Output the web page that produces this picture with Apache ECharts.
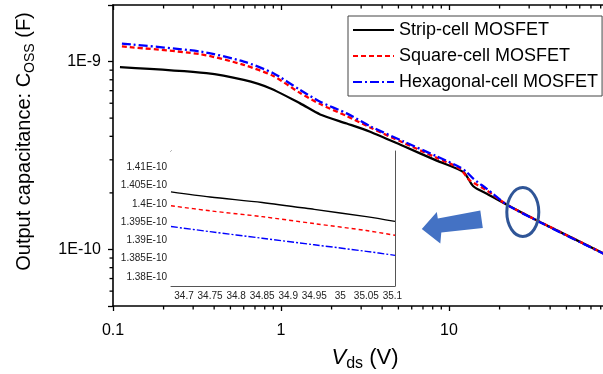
<!DOCTYPE html>
<html>
<head>
<meta charset="utf-8">
<script src="https://cdn.jsdelivr.net/npm/echarts@6/dist/echarts.min.js"></script>
<style>
html,body{margin:0;padding:0;background:#fff;}
#chart{width:603px;height:374px;}
</style>
</head>
<body>
<div id="chart"></div>
<script>
// ---------- data ----------
const seriesNames = ['Strip-cell MOSFET', 'Square-cell MOSFET', 'Hexagonal-cell MOSFET'];

const stripVds = [0.11, 0.36, 0.6, 0.86, 1.3, 1.71, 2.46, 3.39, 5.35, 8.45, 12.2, 13.95, 16.8, 22.1, 35, 81, 100];
const stripC   = [9.33e-10, 8.67e-10, 7.98e-10, 7.21e-10, 5.99e-10, 5.23e-10, 4.68e-10, 4.23e-10, 3.55e-10, 2.97e-10, 2.58e-10, 2.17e-10, 1.98e-10, 1.73e-10, 1.397e-10, 9.64e-11, 8.8e-11];

const squareVds = [0.113, 0.33, 0.6, 0.9, 1.3, 1.71, 2.46, 3.39, 5.35, 8.45, 11.6, 13.3, 16.8, 22.1, 35, 81, 100];
const squareC   = [1.203e-9, 1.095e-9, 9.6e-10, 8.38e-10, 6.8e-10, 5.94e-10, 5.13e-10, 4.46e-10, 3.70e-10, 3.07e-10, 2.69e-10, 2.33e-10, 2.06e-10, 1.73e-10, 1.398e-10, 9.64e-11, 8.8e-11];

const hexVds = [0.113, 0.33, 0.6, 0.9, 1.3, 1.71, 2.46, 3.39, 5.35, 8.45, 11.6, 12.75, 13.95, 16.8, 22.1, 35, 81, 100];
const hexC   = [1.245e-9, 1.131e-9, 1.0e-9, 8.67e-10, 7.06e-10, 6.11e-10, 5.3e-10, 4.53e-10, 3.76e-10, 3.13e-10, 2.74e-10, 2.58e-10, 2.38e-10, 2.10e-10, 1.73e-10, 1.392e-10, 9.6e-11, 8.8e-11];

// inset (zoom near 35 V)
const insetVds    = [34.675, 34.75, 34.85, 34.95, 35.05, 35.105];
const insetStripC = [1.4033e-10, 1.4019e-10, 1.4004e-10, 1.3985e-10, 1.3965e-10, 1.3952e-10];
const insetSquareC= [1.3995e-10, 1.3981e-10, 1.3965e-10, 1.3946e-10, 1.3927e-10, 1.3914e-10];
const insetHexC   = [1.3938e-10, 1.3924e-10, 1.3906e-10, 1.3888e-10, 1.3870e-10, 1.3859e-10];

// tick labels
const mainXTicks  = [0.1, 1, 10];
const mainYTicks  = [1e-10, 1e-9];
const mainXMinor  = [0.2,0.3,0.4,0.5,0.6,0.7,0.8,0.9, 2,3,4,5,6,7,8,9, 20,30,40,50,60,70,80,90];
const mainYMinor  = [6e-11,7e-11,8e-11,9e-11, 2e-10,3e-10,4e-10,5e-10,6e-10,7e-10,8e-10,9e-10];
const insetXTicks = [34.7, 34.75, 34.8, 34.85, 34.9, 34.95, 35, 35.05, 35.1];
const insetYTicks = [1.38e-10, 1.385e-10, 1.39e-10, 1.395e-10, 1.40e-10, 1.405e-10, 1.41e-10];

// ---------- helpers ----------
const zip = (xs, ys) => xs.map((x, i) => [x, ys[i]]);
const X_MIN = 0.1, X_MAX = 100, Y_MIN = 5e-11, Y_MAX = 2e-9;
const IX_MIN = 34.675, IX_MAX = 35.105, IY_MIN = 1.3775e-10, IY_MAX = 1.4145e-10;
const insetXMinor = [], insetYMinor = [];
for (let k = 0; k <= 86; k++) { const v = +(34.68 + k * 0.005).toFixed(3); if (v <= IX_MAX) insetXMinor.push(v); }
for (let k = 0; k <= 36; k++) { insetYMinor.push(+((1.378 + k * 0.001).toFixed(3)) * 1e-10); }

const FONT = "'Liberation Sans', Arial, sans-serif";
const chart = echarts.init(document.getElementById('chart'), null, {renderer: 'canvas'});

function isPow10(v) { const e = Math.log10(v); return Math.abs(e - Math.round(e)) < 1e-6; }
const inList = (list, v) => list.some(t => Math.abs(t - v) / t < 1e-6);

const tickStyle = {stroke: '#000', lineWidth: 1.3};

const option = {
  backgroundColor: '#fff',
  animation: false,
  grid: [
    {left: 113, top: 5, right: -14, bottom: 68, outerBoundsMode: 'none', containLabel: false},
    {left: 171, top: 151, width: 224, height: 135, show: true, backgroundColor: '#fff', borderWidth: 0, z: 3,
     outerBoundsMode: 'none', containLabel: false}
  ],
  legend: {
    data: seriesNames,
    orient: 'vertical', left: 348, top: 16,
    padding: [5, 4, 5, 4],
    itemWidth: 41, itemHeight: 12, itemGap: 8,
    borderColor: '#444', borderWidth: 1, backgroundColor: '#fff',
    itemStyle: {opacity: 0, borderWidth: 0},
    textStyle: {fontSize: 18, fontFamily: FONT, color: '#000', lineHeight: 14},
    z: 10
  },
  xAxis: [
    {type: 'log', gridIndex: 0, min: X_MIN, max: X_MAX, logBase: 10,
     axisLine: {show: true, lineStyle: {color: '#000', width: 1.6}},
     axisTick: {show: true, inside: false, length: 5, lineStyle: {color: '#000', width: 1.3}},
     axisLabel: {fontSize: 16, fontFamily: FONT, color: '#000', margin: 17,
       formatter: v => inList(mainXTicks, v) ? String(+v.toPrecision(3)) : ''},
     splitLine: {show: false}, minorTick: {show: false},
     name: '{v|V}{s|ds} (V)', nameLocation: 'middle', nameGap: 36,
     nameTextStyle: {fontSize: 22, fontFamily: FONT, color: '#000', lineHeight: 28,
       rich: {v: {fontSize: 22, fontStyle: 'italic', fontFamily: FONT, color: '#000', lineHeight: 28},
              s: {fontSize: 16, fontFamily: FONT, color: '#000', lineHeight: 14, verticalAlign: 'bottom'}}}
    },
    {type: 'log', gridIndex: 0, position: 'top', min: X_MIN, max: X_MAX, logBase: 10,
     axisLine: {show: true, lineStyle: {color: '#000', width: 1.6}},
     axisTick: {show: true, inside: true, length: 5, lineStyle: {color: '#000', width: 1.3}},
     axisLabel: {show: false}, splitLine: {show: false}},
    {type: 'value', gridIndex: 1, min: IX_MIN, max: IX_MAX,
     axisLine: {show: true, onZero: false, lineStyle: {color: '#555', width: 1}},
     axisTick: {show: true, inside: true, length: 2.5, customValues: insetXMinor, lineStyle: {color: '#555', width: 1}},
     axisLabel: {fontSize: 10, fontFamily: FONT, color: '#222', margin: 5, customValues: insetXTicks,
       formatter: v => String(+v.toFixed(3))},
     splitLine: {show: false}},
    {type: 'value', gridIndex: 1, position: 'top', min: IX_MIN, max: IX_MAX,
     axisLine: {show: true, onZero: false, lineStyle: {color: '#555', width: 1}},
     axisTick: {show: true, inside: true, length: 2.5, customValues: insetXMinor, lineStyle: {color: '#555', width: 1}},
     axisLabel: {show: false}, splitLine: {show: false}}
  ],
  yAxis: [
    {type: 'log', gridIndex: 0, min: Y_MIN, max: Y_MAX, logBase: 10,
     axisLine: {show: true, lineStyle: {color: '#000', width: 1.6}},
     axisTick: {show: true, inside: false, length: 5, lineStyle: {color: '#000', width: 1.3}},
     axisLabel: {fontSize: 16, fontFamily: FONT, color: '#000', margin: 12,
       formatter: v => inList(mainYTicks, v) ? '1E' + Math.round(Math.log10(v)) : ''},
     splitLine: {show: false},
     name: 'Output capacitance: C{s|OSS} (F)', nameLocation: 'middle', nameGap: 76,
     nameTextStyle: {fontSize: 20, fontFamily: FONT, color: '#000', lineHeight: 26, padding: [0, 0, 0, 28],
       rich: {s: {fontSize: 14, fontFamily: FONT, color: '#000', lineHeight: 13, verticalAlign: 'bottom'}}}
    },
    {type: 'value', gridIndex: 1, min: IY_MIN, max: IY_MAX,
     axisLine: {show: true, onZero: false, lineStyle: {color: '#555', width: 1}},
     axisTick: {show: true, inside: true, length: 2.5, customValues: insetYMinor, lineStyle: {color: '#555', width: 1}},
     axisLabel: {fontSize: 10, fontFamily: FONT, color: '#222', margin: 4, customValues: insetYTicks,
       formatter: v => String(+(v * 1e10).toFixed(3)) + 'E-10'},
     splitLine: {show: false}},
    {type: 'value', gridIndex: 1, position: 'right', min: IY_MIN, max: IY_MAX,
     axisLine: {show: true, onZero: false, lineStyle: {color: '#555', width: 1}},
     axisTick: {show: true, inside: true, length: 2.5, customValues: insetYMinor, lineStyle: {color: '#555', width: 1}},
     axisLabel: {show: false}, splitLine: {show: false}}
  ],
  series: [
    {name: seriesNames[0], type: 'line', xAxisIndex: 0, yAxisIndex: 0, data: zip(stripVds, stripC),
     symbol: 'none', smooth: 0.25, lineStyle: {color: '#000', width: 2.3}, itemStyle: {color: '#000'}, z: 2},
    {name: seriesNames[1], type: 'line', xAxisIndex: 0, yAxisIndex: 0, data: zip(squareVds, squareC),
     symbol: 'none', smooth: 0.25, lineStyle: {color: '#ff0000', width: 2.3, type: [5, 3]}, itemStyle: {color: '#ff0000'}, z: 2},
    {name: seriesNames[2], type: 'line', xAxisIndex: 0, yAxisIndex: 0, data: zip(hexVds, hexC),
     symbol: 'none', smooth: 0.25, lineStyle: {color: '#0000ff', width: 2.3, type: [9, 3, 2, 3]}, itemStyle: {color: '#0000ff'}, z: 2},
    {name: 'inset strip', type: 'line', xAxisIndex: 2, yAxisIndex: 1, data: zip(insetVds, insetStripC),
     symbol: 'none', smooth: 0.3, lineStyle: {color: '#000', width: 1.4}, z: 4},
    {name: 'inset square', type: 'line', xAxisIndex: 2, yAxisIndex: 1, data: zip(insetVds, insetSquareC),
     symbol: 'none', smooth: 0.3, lineStyle: {color: '#ff0000', width: 1.4, type: [4, 3]}, z: 4},
    {name: 'inset hex', type: 'line', xAxisIndex: 2, yAxisIndex: 1, data: zip(insetVds, insetHexC),
     symbol: 'none', smooth: 0.3, lineStyle: {color: '#0000ff', width: 1.4, type: [7, 2, 2, 2]}, z: 4},
    // minor ticks of the main log axes (placed through the axis scales)
    {type: 'custom', xAxisIndex: 0, yAxisIndex: 0, silent: true, clip: false, z: 6,
     data: mainXMinor.map(v => [v, Y_MIN]),
     renderItem: (params, api) => {
       const b = api.coord([api.value(0), Y_MIN]);
       const t = api.coord([api.value(0), Y_MAX]);
       return {type: 'group', children: [
         {type: 'line', shape: {x1: b[0], y1: b[1], x2: b[0], y2: b[1] + 3.5}, style: tickStyle},
         {type: 'line', shape: {x1: t[0], y1: t[1], x2: t[0], y2: t[1] + 3.5}, style: tickStyle}
       ]};
     }},
    {type: 'custom', xAxisIndex: 0, yAxisIndex: 0, silent: true, clip: false, z: 6,
     data: mainYMinor.map(v => [X_MIN, v]),
     renderItem: (params, api) => {
       const p = api.coord([X_MIN, api.value(1)]);
       return {type: 'line', shape: {x1: p[0] - 3.5, y1: p[1], x2: p[0], y2: p[1]}, style: tickStyle};
     }}
  ]
};
chart.setOption(option);

// annotations: ellipse marking the zoomed region and the arrow pointing to the inset
const ctr = chart.convertToPixel({gridIndex: 0}, [27.5, 1.58e-10]);
const ax = ctr[0] - 101, ay = ctr[1] + 17;  // arrow tip relative to ellipse
chart.setOption({
  graphic: [
    {type: 'ellipse', shape: {cx: ctr[0], cy: ctr[1], rx: 16, ry: 24.5}, z: 20,
     style: {fill: 'none', stroke: '#2F5597', lineWidth: 3}},
    {type: 'polygon', z: 20,
     shape: {points: [[ax, ay], [ax + 15, ay - 17], [ax + 16, ay - 10.5], [ax + 58.5, ay - 18.5],
                      [ax + 61, ay - 1.2], [ax + 19.5, ay + 3.5], [ax + 18.5, ay + 14.5]]},
     style: {fill: '#4472C4'}}
  ]
});
</script>
</body>
</html>
